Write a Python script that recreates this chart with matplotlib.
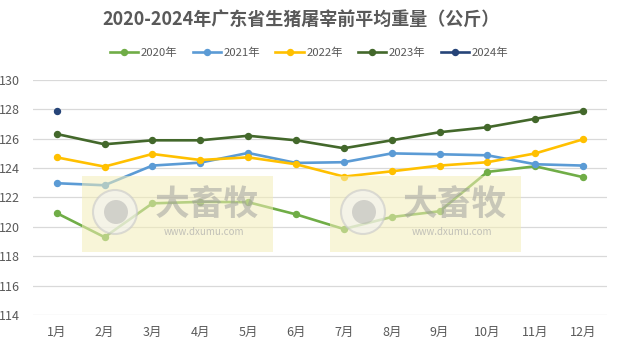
import matplotlib.pyplot as plt
from matplotlib.patches import Rectangle, Ellipse

plt.rcParams['font.family'] = ['Noto Sans CJK SC', 'DejaVu Sans']

# 月份
months = ['1月', '2月', '3月', '4月', '5月', '6月', '7月', '8月', '9月', '10月', '11月', '12月']

# 各年度平均屠宰重量（公斤）
w2020 = [120.94, 119.3, 121.6, 121.7, 121.68, 120.85, 119.85, 120.67, 121.06, 123.74, 124.12, 123.38]
w2021 = [122.97, 122.83, 124.17, 124.37, 125.03, 124.35, 124.4, 125.0, 124.94, 124.87, 124.26, 124.17]
w2022 = [124.73, 124.1, 124.96, 124.55, 124.73, 124.26, 123.42, 123.78, 124.17, 124.4, 125.0, 125.96]
w2023 = [126.32, 125.62, 125.89, 125.89, 126.2, 125.89, 125.35, 125.89, 126.44, 126.78, 127.36, 127.87]
w2024 = [127.87]

series = [
    ('2020年', w2020, '#70AD47'),
    ('2021年', w2021, '#5B9BD5'),
    ('2022年', w2022, '#FFC000'),
    ('2023年', w2023, '#43682B'),
    ('2024年', w2024, '#264478'),
]

W, H = 617, 349
fig = plt.figure(figsize=(W / 100, H / 100), dpi=100)
ax = fig.add_axes([0.053, 0.0974, 0.931, 0.6736])

# 水印底色
for x0 in (82, 330):
    fig.patches.append(Rectangle((x0 / W, 1 - 252 / H), 191 / W, 76 / H,
                                 transform=fig.transFigure, facecolor='#F3EEB8',
                                 alpha=0.55, edgecolor='none', zorder=0))

for i, (name, vals, color) in enumerate(series):
    ax.plot(range(len(vals)), vals, color=color, lw=1.9, marker='o', ms=4.3,
            label=name, zorder=3 + i * 0.1)

# 水印标志和文字
for x0 in (82, 330):
    cx, cy = (x0 + 33) / W, 1 - 212 / H
    fig.patches.append(Ellipse((cx, cy), 44 / W, 44 / H, transform=fig.transFigure,
                               facecolor='#F2F2F2', edgecolor='#C8C8C8', lw=1.5,
                               alpha=0.6, zorder=5))
    fig.patches.append(Ellipse((cx + 1 / W, cy), 24 / W, 24 / H, transform=fig.transFigure,
                               facecolor='#A8A8A8', edgecolor='none',
                               alpha=0.45, zorder=5))
    fig.text((x0 + 125) / W, 1 - 204 / H, '大畜牧', fontsize=25, fontweight='bold',
             color='#9A9A9A', alpha=0.5, ha='center', va='center', zorder=5)
    fig.text((x0 + 122) / W, 1 - 232 / H, 'www.dxumu.com', fontsize=7,
             color='#AAAAAA', alpha=0.7, ha='center', va='center', zorder=5)

ax.set_xlim(-0.5, 11.5)
ax.set_ylim(114, 130)
ax.set_yticks(range(114, 131, 2))
ax.set_xticks(range(12))
ax.set_xticklabels(months)
ax.grid(axis='y', color='#D9D9D9', lw=0.9)
ax.set_axisbelow(True)
for s in ax.spines.values():
    s.set_visible(False)
ax.tick_params(length=0, labelsize=9, colors='#595959')
ax.tick_params(axis='y', pad=9)
ax.tick_params(axis='x', pad=8)
ax.set_facecolor('none')

fig.text(301 / W, 1 - 19 / H, '2020-2024年广东省生猪屠宰前平均重量（公斤）', fontsize=13,
         fontweight='bold', color='#595959', ha='center', va='center')

fig.legend(loc='center', bbox_to_anchor=(309 / W, 1 - 53 / H),
           ncol=5, frameon=False, fontsize=8.2, labelcolor='#595959',
           handlelength=2.5, columnspacing=1.35, handletextpad=0.2)

fig.savefig('out.png', dpi=100)
